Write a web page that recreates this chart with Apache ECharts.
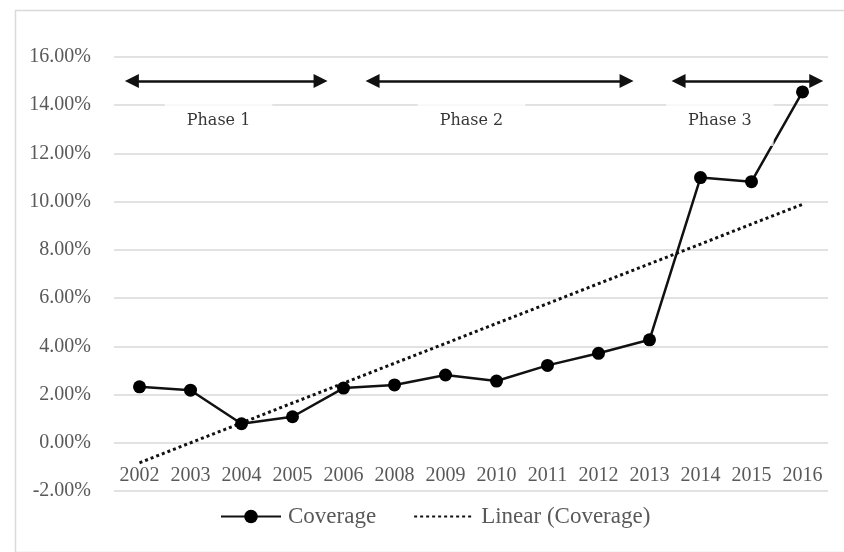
<!DOCTYPE html>
<html>
<head>
<meta charset="utf-8">
<script src="https://cdn.jsdelivr.net/npm/echarts@6/dist/echarts.min.js"></script>
<style>
  html, body { margin: 0; padding: 0; background: #ffffff; }
  #chart { width: 844px; height: 552px; }
</style>
</head>
<body>
<div id="chart"></div>
<script>
// ---- data ----
const categories = ['2002','2003','2004','2005','2006','2008','2009','2010','2011','2012','2013','2014','2015','2016'];
const coverage   = [2.32, 2.18, 0.79, 1.08, 2.27, 2.40, 2.81, 2.56, 3.21, 3.71, 4.27, 11.00, 10.83, 14.55];
const linearTrend = [-0.83, 0.00, 0.82, 1.65, 2.47, 3.30, 4.12, 4.95, 5.77, 6.60, 7.42, 8.24, 9.07, 9.89];
const yMin = -2, yMax = 16, yStep = 2;
const seriesNames = ['Coverage', 'Linear (Coverage)'];
const phaseNames = ['Phase 1', 'Phase 2', 'Phase 3'];
const phaseDividers = ['2006', '2013'];
const dividerRange = [-0.68, 16.25];
const arrowLevel = 15.0;
const phaseArrows = [[-0.15, 3.55], [4.57, 9.55], [10.57, 13.27]];   // category-index units
const phaseLabelPos = [[1.55, 13.35], [6.51, 13.35], [11.38, 13.35]]; // category-index units

const FONT = '"Liberation Serif", "DejaVu Serif", serif';
const GRAY = '#595959';

const chart = echarts.init(document.getElementById('chart'), null, { renderer: 'canvas' });

const option = {
  backgroundColor: '#ffffff',
  animation: false,
  graphic: [{
    type: 'rect', left: 13, top: 8, silent: true,
    shape: { width: 900, height: 542 },
    style: { fill: 'none', stroke: '#d9d9d9', lineWidth: 1.5 }
  }],
  grid: { left: 114, right: 16, top: 57, bottom: 61, containLabel: false },
  legend: {
    data: [
      { name: seriesNames[0] },
      { name: seriesNames[1], itemStyle: { opacity: 0 } }
    ],
    left: 215, top: 500,
    itemWidth: 60, itemHeight: 17, itemGap: 37,
    textStyle: { fontFamily: FONT, fontSize: 23, color: GRAY, padding: [0, 0, 0, 2] }
  },
  xAxis: [{
    type: 'category',
    data: categories,
    boundaryGap: true,
    position: 'bottom',
    offset: -49,
    axisLine: { show: false },
    axisTick: { show: false },
    axisLabel: { fontFamily: FONT, fontSize: 20, color: GRAY, margin: 24, interval: 0 },
    splitLine: { show: false }
  }, {
    type: 'value', min: -0.5, max: 13.5, show: false
  }],
  yAxis: {
    type: 'value', min: yMin, max: yMax, interval: yStep,
    axisLine: { show: false }, axisTick: { show: false },
    axisLabel: {
      fontFamily: FONT, fontSize: 20, color: GRAY, margin: 23,
      formatter: v => v.toFixed(2) + '%'
    },
    splitLine: { lineStyle: { color: '#d9d9d9', width: 1.5 } }
  },
  series: [
    {
      name: seriesNames[0], type: 'line', data: coverage, z: 5,
      symbol: 'circle', symbolSize: 13,
      itemStyle: { color: '#000000' },
      lineStyle: { color: '#111111', width: 2.5 },
      markLine: {
        silent: true, symbol: 'none', z: 3,
        label: { show: false },
        lineStyle: { color: '#111111', width: 1.5, type: 'solid' },
        data: phaseDividers.map(c => [
          { coord: [c, dividerRange[0]] },
          { coord: [c, dividerRange[1]] }
        ])
      }
    },
    {
      name: seriesNames[1], type: 'line', data: linearTrend, z: 4,
      symbol: 'none',
      itemStyle: { color: '#000000' },
      lineStyle: { color: '#111111', width: 3, type: [3, 3] }
    },
    {
      name: 'phases', type: 'scatter', xAxisIndex: 1, yAxisIndex: 0, z: 6,
      symbolSize: 0,
      data: phaseLabelPos.map((p, i) => ({ value: p, name: phaseNames[i] })),
      label: {
        show: true, position: 'inside',
        formatter: p => p.name,
        fontFamily: '"DejaVu Serif", serif', fontSize: 16, color: '#000000',
        lineHeight: 16,
        backgroundColor: '#ffffff',
        padding: [12, 22, 29, 22]
      },
      markLine: {
        silent: true, z: 7,
        symbol: ['triangle', 'triangle'], symbolSize: [14, 14],
        label: { show: false },
        lineStyle: { color: '#111111', width: 2.5, type: 'solid' },
        data: phaseArrows.map(a => [
          { coord: [a[0], arrowLevel] },
          { coord: [a[1], arrowLevel] }
        ])
      }
    }
  ]
};
// phase 3 box is shorter
option.series[2].data[2].label = { padding: [12, 22, 22, 22] };

chart.setOption(option);
</script>
</body>
</html>
